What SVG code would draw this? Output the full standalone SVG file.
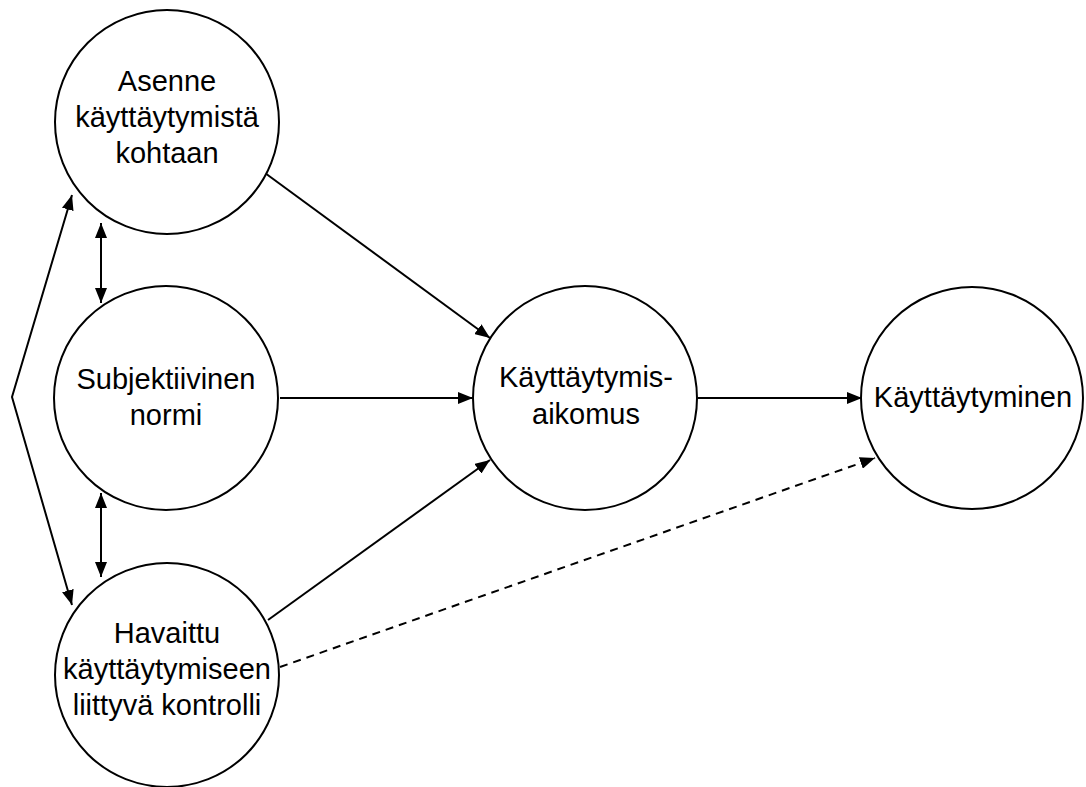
<svg xmlns="http://www.w3.org/2000/svg" width="1086" height="787" viewBox="0 0 1086 787">
<style>
.node circle{fill:#fff;stroke:#000;stroke-width:2}
.node text{font-family:"Liberation Sans",Arial,sans-serif;font-size:29px;fill:#000;text-anchor:middle}
.conn{fill:none;stroke:#000;stroke-width:2}
.dash{stroke-dasharray:8 6}
</style>
<defs>
<marker id="ah" markerUnits="userSpaceOnUse" markerWidth="16" markerHeight="12" refX="15" refY="6" orient="auto-start-reverse">
<path d="M0,0 L15,6 L0,12 z" fill="#000"/>
</marker>
</defs>
<rect width="1086" height="787" fill="#fff"/>
<g id="connectors">
<line class="conn" x1="265" y1="173" x2="490" y2="338" marker-end="url(#ah)"/>
<line class="conn" x1="280" y1="398" x2="473" y2="398" marker-end="url(#ah)"/>
<line class="conn" x1="268" y1="620" x2="490" y2="460" marker-end="url(#ah)"/>
<line class="conn" x1="698" y1="398" x2="862" y2="398" marker-end="url(#ah)"/>
<line class="conn dash" x1="280" y1="667" x2="875" y2="458" marker-end="url(#ah)"/>
<line class="conn" x1="101" y1="223" x2="101" y2="303" marker-start="url(#ah)" marker-end="url(#ah)"/>
<line class="conn" x1="101" y1="493" x2="101" y2="577" marker-start="url(#ah)" marker-end="url(#ah)"/>
<polyline class="conn" points="72,195 12,397 72,605" marker-start="url(#ah)" marker-end="url(#ah)"/>
</g>
<g id="asenne" class="node">
<circle cx="167" cy="122" r="112"/>
<text x="167" y="91">Asenne</text>
<text x="167" y="127">käyttäytymistä</text>
<text x="167" y="163">kohtaan</text>
</g>
<g id="normi" class="node">
<circle cx="166" cy="398" r="112"/>
<text x="166" y="389">Subjektiivinen</text>
<text x="166" y="425">normi</text>
</g>
<g id="kontrolli" class="node">
<circle cx="167" cy="675" r="112"/>
<text x="167" y="643">Havaittu</text>
<text x="167" y="679">käyttäytymiseen</text>
<text x="167" y="715">liittyvä kontrolli</text>
</g>
<g id="aikomus" class="node">
<circle cx="585" cy="398" r="112"/>
<text x="586" y="387">Käyttäytymis-</text>
<text x="586" y="424">aikomus</text>
</g>
<g id="kayttaytyminen" class="node">
<circle cx="972" cy="398" r="111"/>
<text x="973" y="407">Käyttäytyminen</text>
</g>
</svg>
